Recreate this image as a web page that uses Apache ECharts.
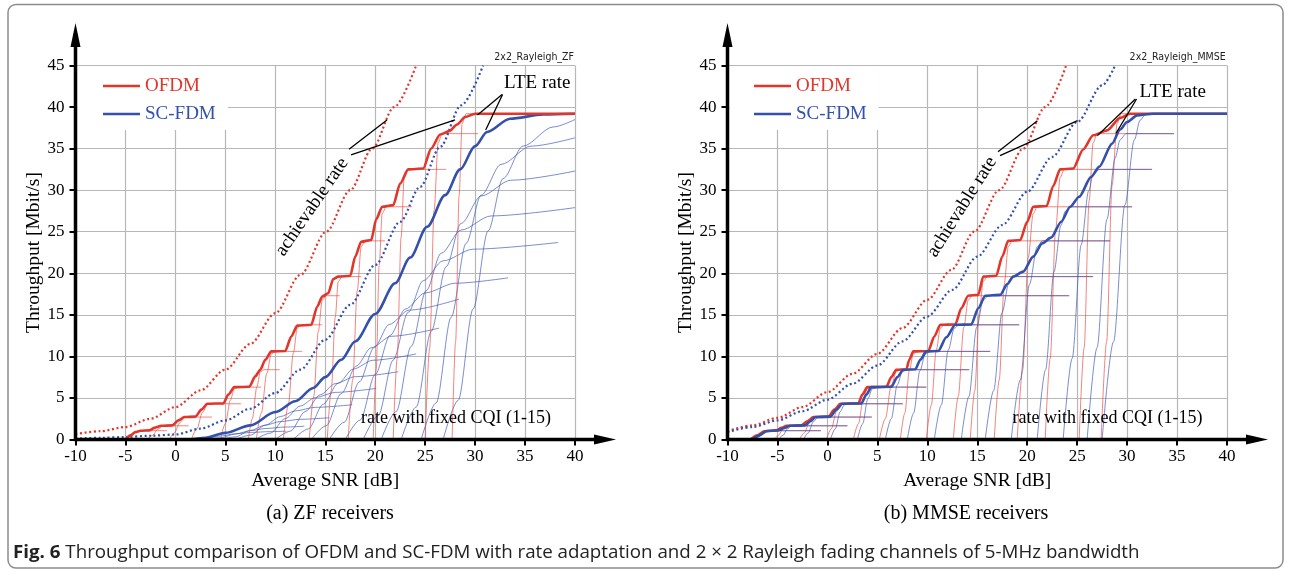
<!DOCTYPE html>
<html><head><meta charset="utf-8">
<script src="https://cdn.jsdelivr.net/npm/echarts@6/dist/echarts.min.js"></script>
<style>html,body{margin:0;padding:0;background:#fff}#c{width:1289px;height:581px}</style>
</head><body><div id="c"></div>
<script>
// ---------------- DATA ----------------
const xTicks = [-10, 0, 40, 5];          // min, ..., max, step (SNR axis, dB)
const yTicks = [0, 45, 5];               // min, max, step (Mbit/s)
const cqiLevels = [1.06,1.65,2.7,4.3,6.3,8.4,10.6,13.8,17.3,19.6,23.9,28.0,32.5,36.8,39.2];

// ---- (a) ZF receivers ----
const zfOfdmAchievable = [[-10,0.65],[-7.5,1.0],[-5,1.5],[-2.5,2.5],[0,3.9],[2.5,5.9],[5,8.4],[7.5,11.5],[10,15.2],[12.5,19.8],[15.1,25],[17.5,30],[19.7,35],[21.9,40],[24.1,45]];
const zfScfdmAchievable = [[-10,0.1],[-7.5,0.2],[-5,0.3],[-2.5,0.45],[0,0.6],[2.5,1.3],[5,2.3],[7.5,3.7],[10,5.6],[12.5,8.4],[15,12.0],[17.5,16.2],[20,21.0],[22.5,26.2],[24.5,30.4],[26.5,35.2],[28.6,40.2],[30.8,45]];
const zfOfdmLte = [[-5,0],[-4.5,0.5],[-4,0.9],[-3.5,1.05],[-2.6,1.1],[-2.1,1.4],[-1.4,1.65],[-0.3,1.7],[0.3,2.3],[0.9,2.7],[2.0,2.75],[2.6,3.6],[3.2,4.3],[4.8,4.35],[5.3,5.4],[5.9,6.3],[7.4,6.35],[8.0,7.6],[8.5,8.4],[9.0,9.6],[9.6,10.6],[11.0,10.65],[11.6,12.4],[12.2,13.7],[13.6,13.8],[14.2,16.0],[14.7,17.2],[15.3,17.6],[15.8,19.3],[16.3,19.6],[17.5,19.7],[18.0,22.0],[18.6,23.8],[19.6,24.0],[20.1,26.5],[20.7,28.0],[21.8,28.2],[22.5,30.8],[23.3,32.5],[24.8,32.6],[25.6,35.0],[26.5,36.7],[27.4,37.1],[28.2,37.9],[29.0,38.8],[30.0,39.2],[40,39.2]];
const zfScfdmLte = [[1.5,0],[3,0.2],[5,0.8],[7.5,1.7],[10,3.3],[12,4.6],[13.8,6.2],[15,7.5],[16.6,9.6],[18,11.8],[20,15.1],[22,18.8],[23.5,21.9],[25.2,25.6],[27,29.4],[28.5,32.5],[30,35.3],[31.2,37.0],[33.5,38.6],[36.8,39.1],[40,39.2]];
const zfOfdmFixed = [
 [[-5,0],[-4.5,0.32],[-4.0,0.8],[-3.6,1.03],[-3.2,1.06],[-0.83,1.06]],
 [[-2.8,0],[-2.3,0.5],[-1.75,1.24],[-1.3,1.6],[-0.9,1.65],[1.33,1.65]],
 [[-0.6,0],[-0.1,0.81],[0.45,2.03],[0.9,2.62],[1.3,2.7],[3.68,2.7]],
 [[1.6,0],[2.15,1.29],[2.7,3.23],[3.2,4.17],[3.6,4.3],[6.58,4.3]],
 [[4.5,0],[5.0,1.89],[5.5,4.73],[5.9,6.11],[6.3,6.3],[8.59,6.3]],
 [[7.3,0],[7.7,2.52],[8.15,6.3],[8.5,8.15],[8.9,8.4],[10.45,8.4]],
 [[8.1,0],[8.6,3.18],[9.15,7.95],[9.6,10.28],[10.0,10.6],[12.7,10.6]],
 [[10.8,0],[11.3,4.14],[11.8,10.35],[12.2,13.39],[12.6,13.8],[14.7,13.8]],
 [[13.4,0],[13.85,5.19],[14.3,12.98],[14.7,16.78],[15.1,17.3],[16.46,17.3]],
 [[15.2,0],[15.6,5.88],[16.0,14.7],[16.3,19.0],[16.7,19.6],[18.6,19.6]],
 [[17.3,0],[17.75,7.17],[18.2,17.9],[18.6,23.2],[19.0,23.9],[21.0,23.9]],
 [[19.8,0],[20.1,8.4],[20.4,21.0],[20.7,27.2],[21.1,28.0],[23.7,28.0]],
 [[21.8,0],[22.2,9.75],[22.6,24.4],[22.9,31.5],[23.3,32.5],[27.1,32.5]],
 [[25.0,0],[25.45,11.0],[25.9,27.6],[26.3,35.7],[26.7,36.8],[30.3,36.8]],
 [[27.7,0],[28.05,11.8],[28.4,29.4],[28.7,38.0],[29.1,39.2],[40,39.2]]
];
const zfScfdmFixed = [
 [[1.5,0],[3,0.13],[4.5,0.42],[6,0.68],[7.5,0.85],[9.5,0.95],[11.1,1.0]],
 [[3,0],[4.5,0.2],[6,0.66],[7.5,1.06],[9,1.32],[11,1.5],[12.9,1.6]],
 [[4.5,0],[6,0.32],[7.5,1.08],[9,1.73],[10.5,2.16],[12.5,2.43],[15.4,2.62]],
 [[6,0],[7.5,0.52],[9,1.72],[10.5,2.75],[12,3.44],[14,3.87],[17.7,4.18]],
 [[8,0],[9.5,0.76],[11,2.52],[12.5,4.03],[14,5.04],[16,5.67],[20.1,6.15]],
 [[10,0],[11.5,1.0],[13,3.36],[14.5,5.38],[16,6.72],[18,7.56],[22.3,8.15]],
 [[11.8,0],[13.3,1.27],[14.8,4.24],[16.3,6.78],[17.8,8.48],[19.8,9.54],[24.1,10.3]],
 [[13.6,0],[15.1,1.66],[16.6,5.52],[18.1,8.83],[19.6,11.04],[21.6,12.42],[26.4,13.4]],
 [[15.4,0],[16.9,2.08],[18.4,6.92],[19.9,11.07],[21.4,13.84],[23.4,15.57],[28.4,16.9]],
 [[17,0],[18.5,2.35],[20,7.84],[21.5,12.54],[23,15.68],[25,17.64],[28,18.8],[33.3,19.45]],
 [[18.8,0],[20.3,2.87],[21.8,9.56],[23.3,15.3],[24.8,19.1],[26.8,21.5],[29.8,22.9],[38.3,23.7]],
 [[20.6,0],[22.1,3.36],[23.6,11.2],[25.1,17.9],[26.6,22.4],[28.6,25.2],[31.6,26.9],[40,27.9]],
 [[22.6,0],[24.1,3.9],[25.6,13],[27.1,20.8],[28.6,26],[30.6,29.3],[33.6,31.2],[40,32.3]],
 [[24.6,0],[26.1,4.4],[27.6,14.7],[29.1,23.6],[30.6,29.4],[32.6,33.1],[35.6,35.3],[40,36.3]],
 [[26.8,0],[28.3,4.7],[29.8,15.7],[31.3,25.1],[32.8,31.4],[34.8,35.3],[37.8,37.6],[40,38.5]]
];

// ---- (b) MMSE receivers ----
const mmseOfdmAchievable = [[-10,1.0],[-7.5,1.7],[-5,2.6],[-2.5,3.9],[0,5.7],[2.5,7.9],[5,10.3],[7.5,13.4],[10,16.8],[12.4,20.4],[14.7,25],[17.2,30],[19.6,35],[21.8,40],[23.9,45]];
const mmseScfdmAchievable = [[-10,0.9],[-7.5,1.5],[-5,2.3],[-2.5,3.4],[0,4.8],[2.5,6.7],[5,8.9],[7.5,11.8],[10,14.8],[12.5,18.0],[15,22.0],[17.5,25.8],[20,29.8],[22.5,34.0],[25,38.2],[27.5,42.6],[28.8,45]];
const mmseOfdmLte = [[-7.7,0],[-7.0,0.5],[-6.3,1.0],[-5.1,1.1],[-4.6,1.4],[-4.1,1.65],[-2.6,1.7],[-2.0,2.2],[-1.4,2.7],[0.1,2.75],[0.7,3.6],[1.3,4.3],[3.1,4.35],[3.5,5.4],[4.0,6.3],[5.9,6.35],[6.4,7.5],[6.9,8.4],[7.9,8.45],[8.2,9.6],[8.6,10.6],[10.1,10.65],[10.7,12.4],[11.3,13.8],[12.8,13.85],[13.4,15.8],[14.1,17.3],[15.1,17.4],[15.6,19.6],[16.9,19.7],[17.5,22.0],[18.1,23.9],[19.3,24.0],[20.0,26.2],[20.6,28.0],[21.95,28.1],[22.6,30.5],[23.3,32.5],[24.6,32.6],[25.6,34.9],[26.6,36.6],[28.0,37.2],[29.3,38.7],[30.3,39.2],[40,39.2]];
const mmseScfdmLte = [[-7.5,0],[-6.8,0.5],[-6.1,1.0],[-4.9,1.1],[-4.3,1.4],[-3.75,1.65],[-2.25,1.7],[-1.7,2.2],[-1.2,2.7],[0.3,2.75],[0.9,3.6],[1.5,4.3],[3.4,4.35],[3.9,5.4],[4.4,6.3],[6.4,6.35],[7.0,7.5],[7.6,8.4],[8.8,8.45],[9.3,9.6],[9.9,10.6],[11.1,10.65],[11.9,12.3],[12.8,13.8],[14.4,13.85],[15.1,15.8],[15.8,17.3],[17.3,17.4],[18.0,18.7],[18.6,19.6],[19.6,20.2],[20.6,22.0],[21.5,23.6],[22.4,24.3],[23.4,26.2],[24.3,28.0],[25.2,29.2],[26.4,31.6],[27.2,32.8],[28.5,35.6],[29.3,37.3],[30.0,38.2],[31.0,39.0],[32.6,39.2],[40,39.2]];
const mmseOfdmFixed = [
 [[-7.6,0],[-7.15,0.32],[-6.7,0.83],[-6.3,1.03],[-5.9,1.06],[-0.65,1.06]],
 [[-5.3,0],[-4.9,0.5],[-4.45,1.29],[-4.1,1.6],[-3.7,1.65],[2.0,1.65]],
 [[-2.8,0],[-2.3,0.81],[-1.8,2.1],[-1.4,2.62],[-1.0,2.7],[4.45,2.7]],
 [[-0.1,0],[0.4,1.29],[0.9,3.35],[1.3,4.17],[1.7,4.3],[7.55,4.3]],
 [[2.6,0],[3.1,1.89],[3.6,4.91],[4.0,6.11],[4.4,6.3],[9.9,6.3]],
 [[5.2,0],[5.8,2.52],[6.4,6.55],[6.9,8.15],[7.3,8.4],[14.2,8.4]],
 [[7.3,0],[7.75,3.18],[8.2,8.27],[8.6,10.28],[9.0,10.6],[16.3,10.6]],
 [[9.9,0],[10.4,4.14],[10.9,10.76],[11.3,13.39],[11.7,13.8],[19.2,13.8]],
 [[12.6,0],[13.1,5.19],[13.65,13.49],[14.1,16.78],[14.5,17.3],[24.2,17.3]],
 [[14.3,0],[14.75,5.88],[15.2,15.29],[15.6,19.01],[16.0,19.6],[26.6,19.6]],
 [[16.7,0],[17.2,7.17],[17.7,18.64],[18.1,23.18],[18.5,23.9],[28.3,23.9]],
 [[19.0,0],[19.55,8.4],[20.1,21.84],[20.6,27.16],[21.0,28.0],[30.5,28.0]],
 [[21.8,0],[22.3,9.75],[22.85,25.35],[23.3,31.53],[23.7,32.5],[32.5,32.5]],
 [[25.2,0],[25.7,11.04],[26.2,28.7],[26.6,35.7],[27.0,36.8],[34.7,36.8]],
 [[27.4,0],[27.95,11.76],[28.5,30.58],[29.0,38.02],[29.4,39.2],[40,39.2]]
];
const mmseScfdmFixed = [
 [[-7.3,0],[-6.85,0.32],[-6.4,0.83],[-6.0,1.03],[-5.5,1.06],[-0.65,1.06]],
 [[-4.9,0],[-4.45,0.5],[-3.99,1.29],[-3.6,1.6],[-3.1,1.65],[2.0,1.65]],
 [[-2.4,0],[-1.91,0.81],[-1.42,2.11],[-1.0,2.62],[-0.5,2.7],[4.45,2.7]],
 [[0.3,0],[0.79,1.29],[1.28,3.35],[1.7,4.17],[2.2,4.3],[7.55,4.3]],
 [[3.0,0],[3.53,1.89],[4.05,4.91],[4.5,6.11],[5.0,6.3],[9.9,6.3]],
 [[5.8,0],[6.4,2.52],[6.99,6.55],[7.5,8.15],[8.0,8.4],[14.2,8.4]],
 [[8.0,0],[8.63,3.18],[9.26,8.27],[9.8,10.28],[10.3,10.6],[16.3,10.6]],
 [[10.7,0],[11.4,4.14],[12.1,10.76],[12.7,13.39],[13.2,13.8],[19.2,13.8]],
 [[13.4,0],[14.17,5.19],[14.94,13.49],[15.6,16.78],[16.1,17.3],[24.2,17.3]],
 [[15.8,0],[16.64,5.88],[17.48,15.29],[18.2,19.01],[18.7,19.6],[26.6,19.6]],
 [[18.4,0],[19.31,7.17],[20.22,18.64],[21.0,23.18],[21.5,23.9],[28.3,23.9]],
 [[21.0,0],[21.84,8.4],[22.68,20.16],[23.38,25.76],[23.8,27.44],[24.4,28.0],[30.5,28.0]],
 [[23.6,0],[24.5,9.75],[25.4,23.4],[26.15,29.9],[26.6,31.85],[27.2,32.5],[32.5,32.5]],
 [[26.0,0],[26.99,11.04],[27.98,26.5],[28.8,33.86],[29.3,36.06],[29.9,36.8],[34.7,36.8]],
 [[27.5,0],[28.64,11.76],[29.78,28.22],[30.73,36.06],[31.3,38.42],[31.9,39.2],[40,39.2]]
];

// ---------------- STYLE ----------------
const SERIF = '"Liberation Serif", "Times New Roman", serif';
const RED = '#e3362b', BLUE = '#3350ab';
const THIN_RED = 'rgba(236,72,62,0.85)', THIN_BLUE = 'rgba(58,86,182,0.85)';
const GRIDC = '#b7b7b7';

const chart = echarts.init(document.getElementById('c'), null, {renderer: 'canvas'});

function dataAxes(gi) {
  const x = {
    gridIndex: gi, type: 'value', min: xTicks[0], max: xTicks[2], interval: xTicks[3],
    axisLine: {show: false, onZero: false},
    axisTick: {show: true, length: 6, lineStyle: {color: '#000', width: 2}},
    axisLabel: {fontFamily: SERIF, fontSize: 17, color: '#000', margin: 9, showMinLabel: true, showMaxLabel: true},
    splitLine: {show: true, lineStyle: {color: GRIDC, width: 1.2}},
    name: 'Average SNR [dB]', nameLocation: 'middle', nameGap: 28.5,
    nameTextStyle: {fontFamily: SERIF, fontSize: 19.5, color: '#000'}
  };
  const y = {
    gridIndex: gi, type: 'value', min: yTicks[0], max: yTicks[1], interval: yTicks[2],
    axisLine: {show: false, onZero: false},
    axisTick: {show: true, length: 6, lineStyle: {color: '#000', width: 2}},
    axisLabel: {fontFamily: SERIF, fontSize: 17, color: '#000', margin: 11, showMinLabel: true, showMaxLabel: true},
    splitLine: {show: true, lineStyle: {color: GRIDC, width: 1.2}},
    name: 'Throughput [Mbit/s]', nameLocation: 'middle', nameGap: 31.5, nameRotate: 90,
    nameTextStyle: {fontFamily: SERIF, fontSize: 19.5, color: '#000'}
  };
  return [x, y];
}
const ax0 = dataAxes(0), ax1 = dataAxes(1);

const series = [];
function addLine(idx, data, name, color, width, z, dashed, smooth) {
  series.push({
    type: 'line', name: name, xAxisIndex: idx, yAxisIndex: idx, data: data,
    showSymbol: false, symbol: 'none', smooth: smooth, smoothMonotone: 'x',
    lineStyle: dashed ? {color: color, width: 2.2, type: [2, 2.6]} : {color: color, width: width},
    itemStyle: {color: color}, z: z, silent: true, animation: false, clip: true
  });
}
// ZF panel
zfScfdmFixed.forEach((d, i) => addLine(0, d, 'SC-FDM CQI ' + (i + 1), THIN_BLUE, 0.8, 2, false, 0.3));
zfOfdmFixed.forEach((d, i) => addLine(0, d, 'OFDM CQI ' + (i + 1), THIN_RED, 0.8, 2, false, 0.3));
addLine(0, zfOfdmAchievable, 'OFDM achievable', RED, 2, 3, true, 0.3);
addLine(0, zfScfdmAchievable, 'SC-FDM achievable', BLUE, 2, 3, true, 0.3);
addLine(0, zfScfdmLte, 'SC-FDM', BLUE, 2.6, 4, false, 0.3);
addLine(0, zfOfdmLte, 'OFDM', RED, 2.6, 5, false, 0.25);
// MMSE panel
mmseOfdmFixed.forEach((d, i) => addLine(1, d, 'OFDM CQI ' + (i + 1), THIN_RED, 0.8, 2, false, 0.3));
mmseScfdmFixed.forEach((d, i) => addLine(1, d, 'SC-FDM CQI ' + (i + 1), THIN_BLUE, 0.8, 2, false, 0.3));
addLine(1, mmseOfdmAchievable, 'OFDM achievable', RED, 2, 3, true, 0.3);
addLine(1, mmseScfdmAchievable, 'SC-FDM achievable', BLUE, 2, 3, true, 0.3);
addLine(1, mmseOfdmLte, 'OFDM', RED, 2.6, 4, false, 0.25);
addLine(1, mmseScfdmLte, 'SC-FDM', BLUE, 2.6, 5, false, 0.25);

function legend(left, padLeft) {
  return {
    orient: 'vertical', left: left, top: 66, padding: [10, 12, 6, padLeft],
    backgroundColor: '#fff', icon: 'rect', itemWidth: 37, itemHeight: 2.6, itemGap: 8, itemTextGap: 10,
    selectedMode: false,
    textStyle: {fontFamily: SERIF, fontSize: 19, lineHeight: 20},
    data: [{name: 'OFDM', textStyle: {color: RED}}, {name: 'SC-FDM', textStyle: {color: BLUE}}],
    z: 3
  };
}

chart.setOption({
  animation: false,
  backgroundColor: '#fff',
  grid: [
    {left: 75.5, top: 65.5, width: 499.5, height: 374},
    {left: 727.5, top: 65.5, width: 499.5, height: 374}
  ],
  xAxis: [ax0[0], ax1[0]],
  yAxis: [ax0[1], ax1[1]],
  legend: [legend(77.5, 25.5), legend(729.5, 24.5)],
  series: series
});

// ---------------- annotations (placed in data coordinates) ----------------
const P = (g, p) => chart.convertToPixel({gridIndex: g}, p);
const g = [];
function txt(gi, p, text, font, align, rotDeg, color) {
  const q = P(gi, p);
  g.push({type: 'text', x: q[0], y: q[1], rotation: (rotDeg || 0) * Math.PI / 180, z: 20,
    style: {text: text, font: font, fill: color || '#000', textAlign: align, textVerticalAlign: 'middle'}});
}
function seg(gi, a, b) {
  const p = P(gi, a), q = P(gi, b);
  g.push({type: 'line', z: 20, shape: {x1: p[0], y1: p[1], x2: q[0], y2: q[1]}, style: {stroke: '#000', lineWidth: 1.3}});
}
// axis lines with arrow heads, starting at the plot origin and running past the last tick
function axesArrows(gi) {
  const o = P(gi, [xTicks[0], yTicks[0]]);
  const xEnd = P(gi, [xTicks[2], yTicks[0]])[0] + 41;   // arrow tip beyond 40 dB
  const yEnd = P(gi, [xTicks[0], yTicks[1]])[1] - 42.5; // arrow tip above 45
  g.push({type: 'line', z: 30, shape: {x1: o[0], y1: o[1], x2: xEnd - 16, y2: o[1]}, style: {stroke: '#000', lineWidth: 3.5}});
  g.push({type: 'polygon', z: 30, shape: {points: [[xEnd - 22, o[1] - 5], [xEnd, o[1]], [xEnd - 22, o[1] + 5]]}, style: {fill: '#000'}});
  g.push({type: 'line', z: 30, shape: {x1: o[0], y1: o[1] + 1.75, x2: o[0], y2: yEnd + 18}, style: {stroke: '#000', lineWidth: 3.5}});
  g.push({type: 'polygon', z: 30, shape: {points: [[o[0] - 5, yEnd + 24], [o[0], yEnd], [o[0] + 5, yEnd + 24]]}, style: {fill: '#000'}});
}
axesArrows(0); axesArrows(1);

const F19 = '19px ' + SERIF, F18 = '18px ' + SERIF;
const SMALL = '10.5px "DejaVu Sans Condensed", "DejaVu Sans", sans-serif';
// ZF
txt(0, [32.9, 42.85], 'LTE rate', F19, 'left');
seg(0, [32.7, 41.5], [30.24, 39.05]); seg(0, [32.75, 41.5], [31.06, 37.24]);
txt(0, [13.67, 27.98], 'achievable rate', F19, 'center', 55.5);
seg(0, [17.38, 34.92], [21.18, 38.45]); seg(0, [17.58, 34.24], [27.99, 38.45]);
txt(0, [18.58, 2.59], 'rate with fixed CQI (1-15)', F18, 'left');
txt(0, [39.9, 46.0], '2x2_Rayleigh_ZF', SMALL, 'right', 0, '#222');
// MMSE
txt(1, [31.25, 41.85], 'LTE rate', F19, 'left');
seg(1, [30.83, 40.97], [27.03, 36.56]); seg(1, [30.95, 40.97], [28.89, 36.85]);
txt(1, [13.47, 27.98], 'achievable rate', F19, 'center', 57.8);
seg(1, [17.08, 34.63], [21.02, 38.36]); seg(1, [17.28, 34.15], [25.04, 38.36]);
txt(1, [18.53, 2.59], 'rate with fixed CQI (1-15)', F18, 'left');
txt(1, [39.87, 46.0], '2x2_Rayleigh_MMSE', SMALL, 'right', 0, '#222');

// frame & captions
g.push({type: 'rect', z: 0, shape: {x: 8, y: 4.5, width: 1275, height: 563.5, r: 8}, style: {fill: 'none', stroke: '#8c8c8c', lineWidth: 1.5}});
g.push({type: 'text', x: 330, y: 514, z: 20, style: {text: '(a) ZF receivers', font: '20px ' + SERIF, fill: '#000', textAlign: 'center', textVerticalAlign: 'middle'}});
g.push({type: 'text', x: 966, y: 514, z: 20, style: {text: '(b) MMSE receivers', font: '20px ' + SERIF, fill: '#000', textAlign: 'center', textVerticalAlign: 'middle'}});
g.push({type: 'text', x: 14, y: 553, z: 20, scaleX: 1.07, originX: 14, originY: 553, style: {
  text: '{b|Fig. 6} Throughput comparison of OFDM and SC-FDM with rate adaptation and 2 × 2 Rayleigh fading channels of 5-MHz bandwidth',
  font: '17.5px "Open Sans", "Noto Sans", sans-serif', fill: '#222', textAlign: 'left', textVerticalAlign: 'middle',
  rich: {b: {fontWeight: 'bold', fontFamily: '"Open Sans", "Noto Sans", sans-serif', fontSize: 17.5, fill: '#222'}}}});
chart.setOption({graphic: g});
</script></body></html>
